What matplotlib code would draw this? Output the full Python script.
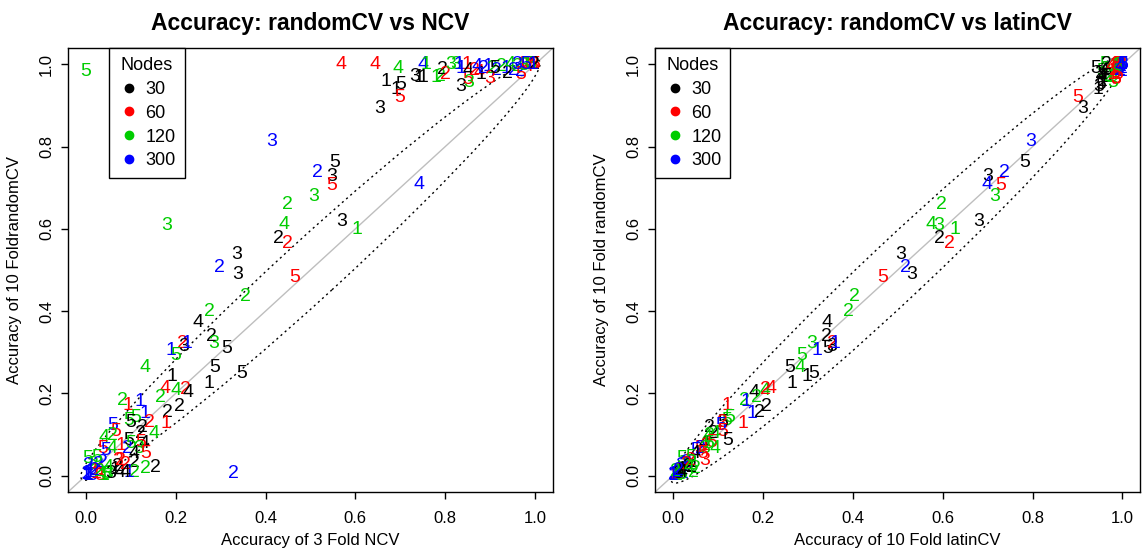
import matplotlib
matplotlib.use("Agg")
import matplotlib.pyplot as plt
from matplotlib.patches import Ellipse
from matplotlib.lines import Line2D
import numpy as np

plt.rcParams['font.family'] = ['Liberation Sans', 'DejaVu Sans']

# label drawn at each point, number of nodes, and the three accuracies
labels = [5, 4, 4, 4, 4, 1, 1, 5, 1, 5, 3, 3, 1, 1, 1, 2, 2, 2, 3, 3,
          1, 1, 3, 5, 3, 1, 4, 2, 4, 1, 2, 1, 2, 2, 2, 1, 2, 4, 2, 2,
          2, 5, 1, 1, 2, 3, 5, 5, 4, 3, 2, 1, 3, 4, 3, 5, 5,
          3, 5, 2, 3, 5, 3, 2, 4, 3, 1, 4, 3, 2, 2, 3, 2, 3, 5, 2,
          2, 4, 2, 3, 5, 5, 1, 5, 1, 2, 3, 1, 1, 5, 4, 4, 4, 2, 4,
          2, 2, 2, 2, 1, 1, 1, 5, 5, 5, 2, 1, 5, 5, 2, 2, 4, 4, 2,
          5, 4, 5, 5, 5, 4, 1, 2, 5, 3, 5, 4, 2, 2, 2, 2, 2, 3,
          5, 2, 2, 2, 2, 1, 2, 1, 3, 1, 3, 5, 1, 3, 5, 3, 1, 4, 2,
          1, 2, 2, 4, 5, 2, 4, 2, 1]
nodes = [120, 60, 60, 120, 300, 120, 30, 30, 30, 60, 30, 30, 30, 30, 120, 120, 30, 60, 120, 120,
         300, 60, 30, 60, 120, 300, 30, 60, 60, 30, 300, 300, 120, 300, 120, 300, 30, 120, 300, 120,
         300, 60, 60, 120, 60, 60, 60, 120, 60, 120, 30, 300, 60, 300, 300, 300, 30,
         300, 30, 300, 30, 60, 120, 120, 120, 30, 120, 300, 120, 30, 60, 30, 300, 30, 60, 120,
         120, 30, 30, 120, 30, 30, 30, 30, 30, 60, 30, 300, 300, 120, 120, 60, 120, 60, 30,
         120, 30, 30, 120, 60, 300, 300, 120, 120, 30, 60, 60, 300, 60, 30, 30, 120, 120, 120,
         30, 30, 60, 60, 300, 120, 60, 300, 120, 120, 60, 30, 30, 120, 120, 30, 300, 60,
         120, 300, 120, 300, 300, 300, 300, 300, 300, 60, 60, 60, 120, 120, 120, 30, 30, 30, 30,
         300, 60, 60, 30, 120, 120, 120, 300, 300]
random_cv = [0.982, 1.000, 1.000, 0.990, 1.000, 1.000, 0.959, 0.951, 0.939, 0.919, 0.892, 0.971, 0.967, 0.967, 0.967, 0.971, 0.988, 0.976, 1.000, 1.000,
             1.000, 1.000, 0.947, 0.963, 0.955, 0.990, 0.985, 0.985, 0.980, 0.975, 0.990, 0.995, 0.990, 0.985, 0.995, 0.990, 0.979, 1.000, 0.985, 0.995,
             0.983, 0.976, 1.000, 1.000, 1.000, 1.000, 1.000, 1.000, 0.995, 0.998, 1.000, 1.000, 0.965, 0.995, 1.000, 1.000, 0.990,
             0.813, 0.762, 0.736, 0.728, 0.705, 0.679, 0.660, 0.610, 0.618, 0.598, 0.707, 0.607, 0.577, 0.565, 0.538, 0.506, 0.488, 0.481, 0.435,
             0.398, 0.372, 0.339, 0.321, 0.309, 0.263, 0.224, 0.248, 0.240, 0.321, 0.315, 0.321, 0.303, 0.293, 0.263, 0.211, 0.207, 0.209, 0.203,
             0.190, 0.168, 0.154, 0.183, 0.171, 0.179, 0.152, 0.134, 0.142, 0.130, 0.130, 0.126, 0.122, 0.106, 0.118, 0.102, 0.102, 0.093, 0.098,
             0.085, 0.077, 0.081, 0.065, 0.061, 0.065, 0.073, 0.065, 0.077, 0.065, 0.053, 0.053, 0.032, 0.008, 0.016, 0.020, 0.004, 0.037,
             0.041, 0.024, 0.028, 0.028, 0.032, 0.005, 0.002, 0.008, 0.000, 0.004, 0.000, 0.010, 0.000, 0.005, 0.002, 0.005, 0.015, 0.008, 0.022,
             0.008, 0.028, 0.037, 0.008, 0.045, 0.010, 0.020, 0.012, 0.000]
ncv = [0.000, 0.568, 0.643, 0.696, 0.750, 0.757, 0.668, 0.700, 0.690, 0.698, 0.654, 0.731, 0.742, 0.750, 0.780, 0.790, 0.794, 0.801, 0.812, 0.823,
       0.831, 0.849, 0.835, 0.850, 0.852, 0.835, 0.850, 0.865, 0.875, 0.880, 0.885, 0.895, 0.905, 0.915, 0.925, 0.935, 0.938, 0.945, 0.952, 0.960,
       0.967, 0.967, 0.972, 0.980, 0.988, 0.995, 1.000, 0.990, 0.985, 0.975, 0.998, 0.995, 0.900, 0.870, 0.960, 0.980, 0.910,
       0.414, 0.554, 0.516, 0.547, 0.547, 0.508, 0.449, 0.440, 0.569, 0.604, 0.742, 0.179, 0.429, 0.449, 0.336, 0.298, 0.339, 0.464, 0.356,
       0.276, 0.250, 0.279, 0.285, 0.314, 0.287, 0.275, 0.346, 0.192, 0.214, 0.218, 0.225, 0.189, 0.200, 0.132, 0.176, 0.201, 0.222, 0.228,
       0.166, 0.209, 0.181, 0.082, 0.093, 0.120, 0.132, 0.096, 0.110, 0.100, 0.142, 0.178, 0.059, 0.067, 0.126, 0.122, 0.152, 0.041, 0.059,
       0.096, 0.130, 0.122, 0.037, 0.045, 0.059, 0.078, 0.093, 0.100, 0.118, 0.133, 0.107, 0.107, 0.107, 0.133, 0.155, 0.329, 0.070,
       0.003, 0.006, 0.017, 0.028, 0.036, 0.000, 0.004, 0.008, 0.012, 0.022, 0.030, 0.026, 0.040, 0.048, 0.044, 0.055, 0.065, 0.075, 0.070,
       0.095, 0.087, 0.076, 0.087, 0.025, 0.030, 0.050, 0.020, 0.005]
latin_cv = [0.953, 0.985, 0.990, 0.985, 0.995, 0.990, 0.955, 0.952, 0.945, 0.901, 0.912, 0.965, 0.960, 0.958, 0.975, 0.972, 0.962, 0.980, 0.995, 0.990,
            1.000, 0.995, 0.948, 0.985, 0.978, 0.990, 0.958, 0.982, 0.985, 0.955, 0.992, 0.997, 0.990, 0.993, 0.990, 0.998, 0.950, 0.995, 0.996, 0.985,
            0.999, 0.990, 0.990, 0.995, 0.998, 0.985, 0.990, 0.960, 0.975, 0.990, 0.965, 1.000, 0.985, 0.995, 1.000, 1.000, 0.940,
            0.796, 0.782, 0.738, 0.699, 0.730, 0.716, 0.597, 0.575, 0.681, 0.627, 0.699, 0.592, 0.593, 0.616, 0.507, 0.518, 0.530, 0.467, 0.404,
            0.390, 0.342, 0.342, 0.308, 0.345, 0.260, 0.264, 0.312, 0.297, 0.355, 0.353, 0.360, 0.321, 0.286, 0.282, 0.217, 0.204, 0.206, 0.180,
            0.186, 0.208, 0.193, 0.160, 0.119, 0.162, 0.175, 0.120, 0.127, 0.110, 0.110, 0.155, 0.105, 0.110, 0.081, 0.090, 0.093, 0.075, 0.080,
            0.121, 0.070, 0.085, 0.060, 0.050, 0.093, 0.070, 0.060, 0.080, 0.070, 0.065, 0.050, 0.040, 0.045, 0.050, 0.040, 0.023, 0.071,
            0.020, 0.018, 0.030, 0.025, 0.030, 0.005, 0.000, 0.010, 0.003, 0.010, 0.005, 0.015, 0.008, 0.012, 0.020, 0.010, 0.020, 0.012, 0.035,
            0.008, 0.030, 0.038, 0.020, 0.040, 0.005, 0.035, 0.012, 0.000]

node_levels = [30, 60, 120, 300]
node_colors = {30: 'black', 60: '#FF0000', 120: '#00CD00', 300: '#0000FF'}

# dotted ellipse around the diagonal: centre, width, height, angle
ell_left = (0.5, 0.5, 1.44, 0.136, 45.0)
ell_right = (0.5, 0.5, 1.44, 0.136, 45.8)

fig = plt.figure(figsize=(11.42, 5.54), dpi=100)
ax1 = fig.add_axes([0.0595, 0.1119, 0.4247, 0.8015])
ax2 = fig.add_axes([0.5736, 0.1119, 0.4250, 0.8015])


def panel(ax, xvals, title, xlabel, ylabel, ell, leg_x):
    ax.axline((0, 0), (1, 1), color='#BEBEBE', lw=1, zorder=1)
    cx, cy, w, h, ang = ell
    ax.add_patch(Ellipse((cx, cy), w, h, angle=ang, fill=False, ec='black',
                         lw=1, linestyle=(0, (1.5, 2.5)), zorder=2))
    for lab, nd, xv, yv in zip(labels, nodes, xvals, random_cv):
        ax.text(xv, yv, str(lab), color=node_colors[nd], fontsize=14,
                ha='center', va='center', zorder=3)
    ax.set_xlim(-0.04, 1.04)
    ax.set_ylim(-0.04, 1.04)
    ticks = [0.0, 0.2, 0.4, 0.6, 0.8, 1.0]
    ax.set_xticks(ticks)
    ax.set_yticks(ticks)
    ax.set_xticklabels([f"{t:.1f}" for t in ticks])
    ax.set_yticklabels([f"{t:.1f}" for t in ticks], rotation=90, va='center')
    ax.tick_params(length=5, width=1, labelsize=12)
    ax.tick_params(axis='x', pad=9)
    ax.tick_params(axis='y', pad=5)
    for s in ax.spines.values():
        s.set_linewidth(1)
    ax.set_title(title, fontsize=16.5, fontweight='bold', pad=13)
    ax.set_xlabel(xlabel, fontsize=12, labelpad=5)
    ax.set_ylabel(ylabel, fontsize=12, labelpad=12)
    handles = [Line2D([], [], marker='o', ls='', color=node_colors[n],
                      markersize=6) for n in node_levels]
    leg = ax.legend(handles, [str(n) for n in node_levels], title='Nodes',
                    loc='upper left', bbox_to_anchor=(leg_x, 1.0),
                    fontsize=13, title_fontsize=13, fancybox=False,
                    edgecolor='black', framealpha=1, borderaxespad=0,
                    handletextpad=0.3, handlelength=1.2, borderpad=0.5,
                    labelspacing=0.38)
    leg.get_frame().set_linewidth(1)


panel(ax1, ncv, "Accuracy: randomCV vs NCV", "Accuracy of 3 Fold NCV",
      "Accuracy of 10 FoldrandomCV", ell_left, 0.085)
panel(ax2, latin_cv, "Accuracy: randomCV vs latinCV", "Accuracy of 10 Fold latinCV",
      "Accuracy of 10 Fold randomCV", ell_right, 0.0)

fig.savefig("out.png", dpi=100)
